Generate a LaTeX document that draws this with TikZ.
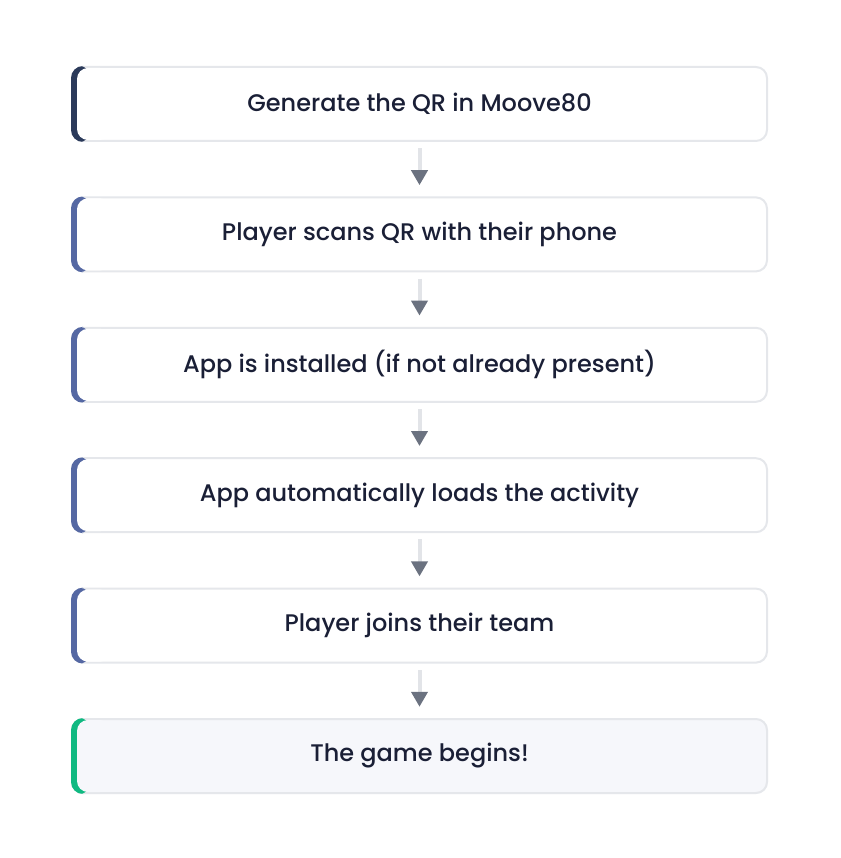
\documentclass[tikz,border=0pt]{standalone}
\usepackage{fontspec}
\setmainfont{Poppins}[UprightFont=* Medium]
\usetikzlibrary{arrows.meta}
\definecolor{boxline}{HTML}{E5E7EB}
\definecolor{stemgray}{HTML}{E2E4E8}
\definecolor{headgray}{HTML}{6B7280}
\definecolor{navy}{HTML}{2B3A5A}
\definecolor{slate}{HTML}{5568A3}
\definecolor{mint}{HTML}{10B981}
\definecolor{paleblue}{HTML}{F6F7FB}
\definecolor{ink}{HTML}{1A1F36}
\begin{document}
\begin{tikzpicture}[x=1pt, y=-1pt,
    stage/.style={fill=#1, rounded corners=12pt,
      minimum width=697pt, minimum height=76pt, inner sep=0pt,
      text=ink, font=\fontsize{24}{29}\selectfont},
    stage/.default=white,
    bar/.style 2 args={path picture={
      \draw[boxline, line width=4pt, rounded corners=12pt] (path picture bounding box.north west) rectangle (path picture bounding box.south east);
      \fill[#1] (path picture bounding box.north west) rectangle ([xshift=20pt]path picture bounding box.south west);
      \fill[#2, rounded corners=11pt] ([xshift=6pt,yshift=-2pt]path picture bounding box.north west) rectangle ([xshift=40pt,yshift=2pt]path picture bounding box.south west);}},
    flow/.style={stemgray, line width=4pt, -{Triangle[length=15pt, width=16pt, color=headgray]}}]
  \useasboundingbox (0,0) rectangle (840,858);
  \node[stage, bar={navy}{white}] (qr) at (419.5,104) {Generate the QR in Moove80};
  \node[stage, bar={slate}{white}] (scan) at (419.5,234.4) {Player scans QR with their phone};
  \node[stage, bar={slate}{white}] (install) at (419.5,364.8) {App is installed (if not already present)};
  \node[stage, bar={slate}{white}] (load) at (419.5,495.2) {App automatically loads the activity};
  \node[stage, bar={slate}{white}] (team) at (419.5,625.6) {Player joins their team};
  \node[stage=paleblue, bar={mint}{paleblue}] (begin) at (419.5,756) {The game begins!};
  \foreach \a/\b in {qr/scan, scan/install, install/load, load/team, team/begin}
    \draw[flow] ([yshift=-6pt]\a.south) -- ([yshift=11pt]\b.north);
\end{tikzpicture}
\end{document}
